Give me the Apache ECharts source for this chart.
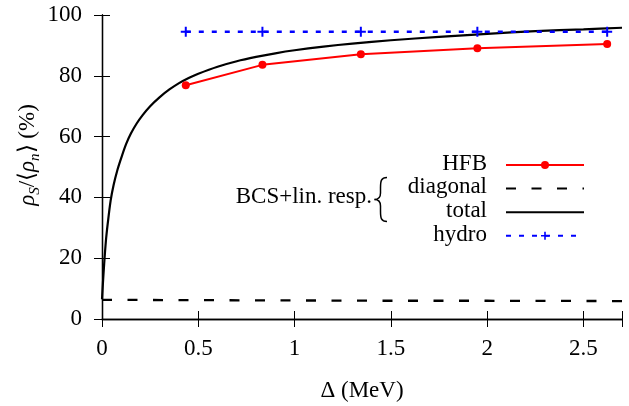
<!DOCTYPE html>
<html>
<head>
<meta charset="utf-8">
<script src="https://cdn.jsdelivr.net/npm/echarts@6/dist/echarts.min.js"></script>
<style>html,body{margin:0;padding:0;background:#fff}#c{width:629px;height:406px}</style>
</head>
<body>
<div id="c"></div>
<script>
// Data
var hfbX = [0.435, 0.833, 1.344, 1.949, 2.623];
var hfbY = [76.9, 83.6, 87.1, 89.1, 90.5];
var hydroX = [0.435, 0.833, 1.344, 1.949, 2.623];
var hydroY = [94.5, 94.5, 94.5, 94.5, 94.5];
var totalX = [0, 0.005, 0.01, 0.02, 0.03, 0.045, 0.06, 0.08, 0.1, 0.125, 0.15, 0.18, 0.21, 0.25, 0.3, 0.35, 0.4, 0.45, 0.5, 0.6, 0.7, 0.8, 0.9, 1.0, 1.15, 1.3, 1.5, 1.75, 2.0, 2.25, 2.5, 2.7];
var totalY = [6.5, 12, 17, 25.5, 31.5, 39, 44, 49, 53, 57.5, 61, 64.3, 67, 70, 73, 75.5, 77.6, 79.3, 80.7, 83, 84.8, 86.2, 87.4, 88.4, 89.6, 90.6, 91.7, 92.8, 93.8, 94.7, 95.3, 95.8];
var diagX = [0, 0.5, 1.0, 1.5, 2.0, 2.7];
var diagY = [6.3, 6.2, 6.1, 6.0, 6.0, 5.9];
var xTicks = [0, 0.5, 1, 1.5, 2, 2.5];
var yTicks = [0, 20, 40, 60, 80, 100];
var legendNames = ['HFB', 'diagonal', 'total', 'hydro'];

function pairs(xs, ys) { return xs.map(function (x, i) { return [x, ys[i]]; }); }

var FONT = 'Liberation Serif';
var plus = 'path://M4,0h2v4h4v2h-4v4h-2v-4h-4v-2h4z';

var chart = echarts.init(document.getElementById('c'), null, {renderer: 'canvas'});
var axisLine = {show: true, lineStyle: {color: '#000', width: 1.3}};
var tick = {show: true, inside: true, length: 8, lineStyle: {color: '#000', width: 1}};

var braceStyle = {fill: 'none', stroke: '#000', lineWidth: 1.5};
function bz(x1, y1, c1x, c1y, c2x, c2y, x2, y2) {
  return {type: 'bezierCurve', shape: {x1: x1, y1: y1, cpx1: c1x, cpy1: c1y, cpx2: c2x, cpy2: c2y, x2: x2, y2: y2}, style: braceStyle};
}
function ln(x1, y1, x2, y2) {
  return {type: 'line', shape: {x1: x1, y1: y1, x2: x2, y2: y2}, style: braceStyle};
}
function label(text, x, y, align) {
  return {type: 'text', x: x, y: y, z: 100,
    style: {text: text, align: align, verticalAlign: 'middle', fill: '#000', fontFamily: FONT, fontSize: 23}};
}

chart.setOption({
  animation: false,
  backgroundColor: '#fff',
  grid: {left: 102, right: 7, top: 15, bottom: 87, containLabel: false},
  xAxis: [{
    type: 'value', min: 0, max: 2.7, interval: 0.5, position: 'bottom',
    axisLine: axisLine, axisTick: tick, splitLine: {show: false}, axisLabel: {show: false}
  }, {
    type: 'value', min: 0, max: 2.7, interval: 0.5, position: 'top',
    axisLine: axisLine, axisTick: tick, splitLine: {show: false}, axisLabel: {show: false}
  }],
  yAxis: [{
    type: 'value', min: 0, max: 100, interval: 20, position: 'left',
    axisLine: axisLine, axisTick: tick, splitLine: {show: false}, axisLabel: {show: false}
  }, {
    type: 'value', min: 0, max: 100, interval: 20, position: 'right',
    axisLine: axisLine, axisTick: tick, splitLine: {show: false}, axisLabel: {show: false}
  }],
  legend: {
    orient: 'vertical', right: 44, top: 153, padding: 0, align: 'right',
    itemWidth: 78, itemHeight: 10, itemGap: -0.4,
    textStyle: {color: 'rgba(0,0,0,0)', fontFamily: FONT, fontSize: 23, lineHeight: 24, padding: [0, 15, 0, 0]},
    data: [
      {name: legendNames[0]},
      {name: legendNames[1], itemStyle: {opacity: 0}},
      {name: legendNames[2], itemStyle: {opacity: 0}},
      {name: legendNames[3]}
    ],
    selectedMode: false
  },
  series: [{
    name: legendNames[0], type: 'line', data: pairs(hfbX, hfbY),
    symbol: 'circle', symbolSize: 8, showAllSymbol: true,
    lineStyle: {color: '#ff0000', width: 2}, itemStyle: {color: '#ff0000'}, z: 4
  }, {
    name: legendNames[1], type: 'line', data: pairs(diagX, diagY), symbol: 'none',
    lineStyle: {color: '#000', width: 2.3, type: [10, 15.5]}, itemStyle: {color: '#000'}, z: 3
  }, {
    name: legendNames[2], type: 'line', data: pairs(totalX, totalY), symbol: 'none',
    smooth: 0.3,
    lineStyle: {color: '#000', width: 2.2}, itemStyle: {color: '#000'}, z: 3
  }, {
    name: legendNames[3], type: 'line', data: pairs(hydroX, hydroY),
    symbol: plus, symbolSize: 10, showAllSymbol: true,
    lineStyle: {color: '#0000ff', width: 2.4, type: [5, 8]}, itemStyle: {color: '#0000ff'}, z: 5
  }]
});

// Text drawn as graphic elements, placed through the chart's own axis scales
var g = [];
var xAxisPixY = chart.convertToPixel({yAxisIndex: 0}, 0);
var yAxisPixX = chart.convertToPixel({xAxisIndex: 0}, 0);
var xRight = chart.convertToPixel({xAxisIndex: 0}, 2.7);
xTicks.forEach(function (v) {
  g.push(label(String(v), chart.convertToPixel({xAxisIndex: 0}, v), xAxisPixY + 30, 'center'));
});
yTicks.forEach(function (v) {
  g.push(label(String(v), yAxisPixX - 20, chart.convertToPixel({yAxisIndex: 0}, v), 'right'));
});
g.push(label('Δ (MeV)', (yAxisPixX + xRight) / 2, xAxisPixY + 72, 'center'));
legendNames.forEach(function (n, i) {
  g.push(label(n, 487, 163.5 + 23.7 * i, 'right'));
});
g.push({
  type: 'text', x: 28, y: 155, rotation: Math.PI / 2,
  style: {
    text: '{i|ρ}{s|S}{n|/⟨}{i|ρ}{s|n}{n|⟩ (%)}',
    align: 'center', verticalAlign: 'middle', fill: '#000',
    rich: {
      i: {fontFamily: FONT, fontStyle: 'italic', fontSize: 23, lineHeight: 30, fill: '#000'},
      n: {fontFamily: FONT, fontSize: 23, lineHeight: 30, fill: '#000'},
      s: {fontFamily: FONT, fontStyle: 'italic', fontSize: 15, lineHeight: 15, verticalAlign: 'bottom', fill: '#000'}
    }
  }
});
g.push(label('BCS+lin. resp.', 372, 197, 'right'));
g.push(
  bz(387, 177.5, 381, 177.5, 380.5, 181, 380.5, 188),
  ln(380.5, 188, 380.5, 193),
  bz(380.5, 193, 380.5, 198, 378, 199.5, 374.5, 199.5),
  bz(374.5, 199.5, 378, 199.5, 380.5, 201, 380.5, 206),
  ln(380.5, 206, 380.5, 211),
  bz(380.5, 211, 380.5, 218, 381, 221.5, 387, 221.5)
);
chart.setOption({graphic: g});
</script>
</body>
</html>
